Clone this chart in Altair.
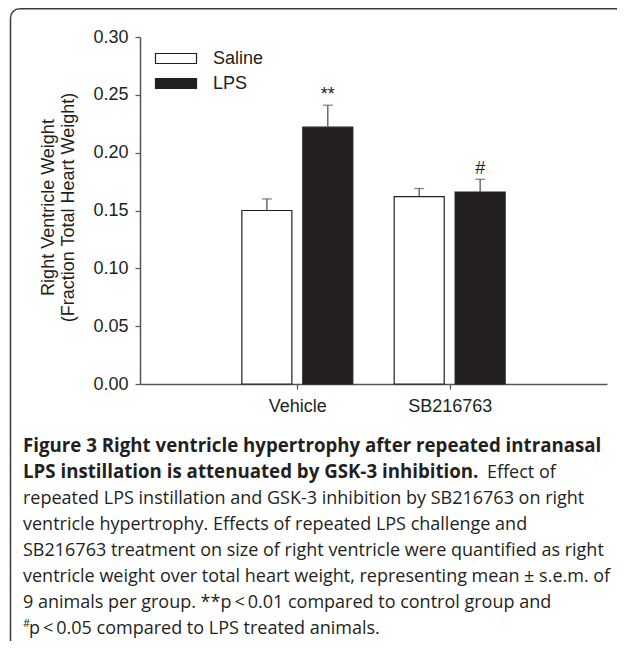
import altair as alt
import pandas as pd
import math

# ---- data ----
groups = ["Vehicle", "SB216763"]
series = ["Saline", "LPS"]
mean_saline = [0.150, 0.162]
mean_lps = [0.222, 0.166]
sem_saline = [0.010, 0.007]
sem_lps = [0.019, 0.011]
annot_saline = ["", ""]
annot_lps = ["**", "#"]
y_ticks = [0.00, 0.05, 0.10, 0.15, 0.20, 0.25, 0.30]
y_title = ["Right Ventricle Weight", "(Fraction Total Heart Weight)"]

caption_bold = [
    "Figure 3 Right ventricle hypertrophy after repeated intranasal",
    "LPS instillation is attenuated by GSK-3 inhibition.",
]
caption_tail = "Effect of"
caption_body = [
    "repeated LPS instillation and GSK-3 inhibition by SB216763 on right",
    "ventricle hypertrophy. Effects of repeated LPS challenge and",
    "SB216763 treatment on size of right ventricle were quantified as right",
    "ventricle weight over total heart weight, representing mean \u00b1 s.e.m. of",
    "9 animals per group. **p\u2009<\u20090.01 compared to control group and",
]
caption_sup = "#"
caption_last = "p\u2009<\u20090.05 compared to LPS treated animals."

# ---- table ----
rows = []
means = {"Saline": mean_saline, "LPS": mean_lps}
sems = {"Saline": sem_saline, "LPS": sem_lps}
annots = {"Saline": annot_saline, "LPS": annot_lps}
offset = {"Saline": -0.2, "LPS": 0.2}
for gi, g in enumerate(groups):
    for s in series:
        m = means[s][gi]
        e = sems[s][gi]
        rows.append({"group": g, "series": s, "mean": m, "sem": e,
                     "top": m + e, "annot": annots[s][gi],
                     "xpos": gi + 1 + offset[s]})
df = pd.DataFrame(rows)

FONT = "Liberation Sans"
CAPFONT = "Open Sans"
INK = "#231f20"
GREY = "#555555"
FRAME = "#3a3a3a"

label_expr = " : ".join(
    f"datum.value == {i + 1} ? '{g}'" for i, g in enumerate(groups)
) + " : ''"

x_enc = alt.X("xpos:Q",
              scale=alt.Scale(domain=[0, 3], nice=False, zero=False),
              axis=alt.Axis(values=[1, 2], labelExpr=label_expr, title=None,
                            grid=False, tickSize=5, labelPadding=8,
                            labelFontSize=18, labelFont=FONT, labelColor=INK,
                            domainColor=GREY, tickColor=GREY,
                            domainWidth=1.5, tickWidth=1.2))
y_enc = alt.Y("mean:Q",
              scale=alt.Scale(domain=[0, 0.30], nice=False),
              axis=alt.Axis(values=y_ticks, format=".2f", title=y_title,
                            grid=False, tickSize=5, labelPadding=7,
                            labelFontSize=18, labelFont=FONT, labelColor=INK,
                            domainColor=GREY, tickColor=GREY,
                            domainWidth=1.5, tickWidth=1.2,
                            titleFont=FONT, titleFontSize=18,
                            titleFontWeight="normal", titleColor=INK,
                            titleAngle=270, titleX=-92, titleY=170,
                            titleAlign="center", titleBaseline="middle",
                            titleLineHeight=20))

base = alt.Chart(df)

bars = base.mark_bar(size=50, stroke=INK, strokeWidth=1.2).encode(
    x=x_enc,
    y=y_enc,
    color=alt.Color("series:N",
                    scale=alt.Scale(domain=series, range=["#ffffff", INK]),
                    legend=alt.Legend(title=None, orient="none",
                                      legendX=17, legendY=12.5,
                                      direction="vertical",
                                      symbolType="M-4.1,-1L4.1,-1L4.1,1L-4.1,1Z",
                                      symbolSize=100,
                                      symbolStrokeColor=INK,
                                      symbolStrokeWidth=1.2,
                                      symbolOffset=10,
                                      labelOffset=28,
                                      labelFont=FONT, labelFontSize=18,
                                      labelColor=INK, rowPadding=7,
                                      padding=0)),
)

rules = base.mark_rule(color=GREY, strokeWidth=1.3).encode(
    x="xpos:Q", y="mean:Q", y2="top:Q")
caps = base.mark_tick(orient="horizontal", size=10, thickness=1.3,
                      color=GREY).encode(x="xpos:Q", y="top:Q")
annot = base.mark_text(dy=-5, baseline="alphabetic", fontSize=18,
                       font=FONT, color=INK).encode(
    x="xpos:Q", y="top:Q", text="annot:N")

# ---- frame (bracket with rounded corners on the left) ----
one = pd.DataFrame({"k": [0]})
FL, FT, FB, R = -129.5, -28.2, 611, 9
top_line = alt.Chart(one).mark_rule(color=FRAME, strokeWidth=1.5).encode(
    x=alt.value(FL + R), x2=alt.value(520), y=alt.value(FT))
left_line = alt.Chart(one).mark_rule(color=FRAME, strokeWidth=1.5).encode(
    x=alt.value(FL), y=alt.value(FT + R), y2=alt.value(FB - R))
corner_tl = alt.Chart(one).mark_arc(
    radius=R, radius2=R, theta=1.5 * math.pi, theta2=2 * math.pi,
    fillOpacity=0, stroke=FRAME, strokeWidth=1.5).encode(
    x=alt.value(FL + R), y=alt.value(FT + R))
corner_bl = alt.Chart(one).mark_arc(
    radius=R, radius2=R, theta=math.pi, theta2=1.5 * math.pi,
    fillOpacity=0, stroke=FRAME, strokeWidth=1.5).encode(
    x=alt.value(FL + R), y=alt.value(FB - R))

LX = -117
Y0 = 415
LH = 26
cap_bold = alt.Chart(one).mark_text(
    text=caption_bold, font=CAPFONT, fontWeight="bold", fontSize=18.7,
    align="left", baseline="alphabetic", lineHeight=LH, color=INK).encode(
    x=alt.value(LX), y=alt.value(Y0))
cap_tail = alt.Chart(one).mark_text(
    text=caption_tail, font=CAPFONT, fontSize=18, align="left",
    baseline="alphabetic", color=INK).encode(
    x=alt.value(347), y=alt.value(Y0 + LH))
cap_body = alt.Chart(one).mark_text(
    text=caption_body, font=CAPFONT, fontSize=18, align="left",
    baseline="alphabetic", lineHeight=LH, color=INK).encode(
    x=alt.value(LX), y=alt.value(Y0 + 2 * LH))
cap_sup = alt.Chart(one).mark_text(
    text=caption_sup, font=CAPFONT, fontSize=11, align="left",
    baseline="alphabetic", color=INK).encode(
    x=alt.value(LX), y=alt.value(Y0 + 7 * LH - 7))
cap_last = alt.Chart(one).mark_text(
    text=caption_last, font=CAPFONT, fontSize=18, align="left",
    baseline="alphabetic", color=INK).encode(
    x=alt.value(LX + 6), y=alt.value(Y0 + 7 * LH))

chart = alt.layer(top_line, left_line, corner_tl, corner_bl,
                  bars, rules, caps, annot,
                  cap_bold, cap_tail, cap_body, cap_sup, cap_last).properties(
    width=467, height=347,
    padding={"left": 132, "top": 29, "right": 10, "bottom": 257},
    autosize=alt.AutoSizeParams(type="none"),
    background="white",
).configure_view(stroke=None)

chart.save("out.html", embed_options={"renderer": "svg", "actions": False})
